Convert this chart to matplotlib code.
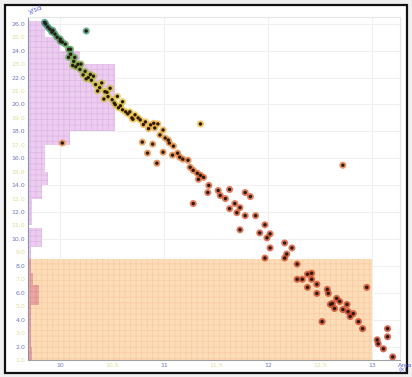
import matplotlib.pyplot as plt
import matplotlib.patches as mpatches
from matplotlib.colors import LinearSegmentedColormap
from matplotlib.ticker import FixedLocator

plt.rcParams['hatch.linewidth'] = 0.5

# scatter points (x, y)
x_vals = [9.85, 9.86, 9.88, 9.90, 9.92, 9.93, 9.95, 9.97, 10.00, 10.00, 10.02, 10.05, 10.08, 10.10,
          10.25,
          10.10, 10.13, 10.14, 10.17, 10.19, 10.24, 10.27, 10.29, 10.34, 10.38, 10.43, 10.46, 10.50,
          10.53, 10.56, 10.60, 10.63, 10.08, 10.15, 10.20, 10.22, 10.30, 10.32, 10.36, 10.40, 10.45,
          10.48, 10.52, 10.55, 10.58, 10.60, 10.65, 10.12, 10.25, 10.42,
          10.67, 10.69, 10.72, 10.77, 10.82, 10.87, 10.91, 10.94, 10.99, 10.70, 10.75, 10.80, 10.85,
          10.90, 10.96, 11.01, 11.04,
          11.35, 10.79, 10.84, 10.93, 10.02,
          10.89, 11.05, 11.09, 10.99, 11.08, 11.13, 11.15, 11.18, 11.23, 11.25, 11.28, 11.32, 11.33,
          11.35, 11.38, 11.43, 11.42, 11.52, 11.54, 11.59, 11.63, 11.28, 11.63, 11.68, 11.70, 11.73,
          11.78, 11.78, 11.83, 11.88, 11.97, 11.92, 12.02, 11.99, 11.73, 12.02, 12.16, 12.23, 12.72,
          12.18, 12.16, 12.28, 12.38, 12.42, 12.28, 12.33, 12.42, 12.38, 12.47, 12.47, 12.57, 12.58,
          12.66, 12.69, 12.62, 12.60, 12.76, 12.64, 12.72, 12.77, 12.82, 12.79, 12.87, 12.91, 12.52,
          12.95, 13.05, 13.06, 13.11, 13.15, 13.15, 13.20, 11.97]
y_vals = [26.10, 25.98, 25.76, 25.60, 25.38, 25.50, 25.23, 25.00, 24.86, 24.70, 24.63, 24.48, 24.10, 23.73,
          25.46,
          24.10, 23.20, 23.50, 22.98, 22.60, 22.46, 22.00, 22.23, 21.48, 21.25, 20.95, 20.58, 20.35,
          19.98, 19.75, 19.60, 19.45, 23.50, 22.80, 23.00, 22.20, 21.80, 22.10, 21.00, 21.60, 20.90,
          21.20, 20.10, 20.60, 19.90, 20.20, 19.30, 22.90, 21.90, 20.40,
          19.45, 19.00, 19.23, 18.85, 18.70, 18.48, 18.25, 18.55, 18.10, 18.90, 19.00, 18.50, 18.20,
          18.60, 17.73, 17.50, 17.35,
          18.55, 17.20, 16.38, 15.63, 17.13,
          17.05, 17.13, 16.90, 16.45, 16.23, 16.38, 16.08, 15.93, 15.85, 15.33, 15.10, 14.88, 14.43,
          14.73, 14.58, 13.98, 13.45, 13.60, 13.23, 13.00, 13.68, 12.63, 12.25, 12.63, 11.95, 12.33,
          11.73, 13.45, 13.15, 11.73, 11.05, 10.45, 10.38, 10.08, 10.68, 9.33, 9.70, 9.33, 15.48,
          8.88, 8.58, 8.13, 7.38, 7.45, 7.00, 7.00, 7.00, 6.40, 6.63, 5.95, 6.25, 5.95,
          5.58, 5.35, 5.20, 5.13, 5.13, 4.83, 4.75, 4.60, 4.45, 4.23, 3.85, 3.33, 3.85,
          6.40, 2.50, 2.20, 1.83, 3.33, 2.73, 1.23, 8.58]

# side histogram along y (bin low edge, bin high edge, bar length)
bin_lo = [25, 24, 23, 22, 21, 20, 19, 18, 17, 16, 15, 14, 13, 12, 11, 9.4, 8.5]
bin_hi = [26.2, 25, 24, 23, 22, 21, 20, 19, 18, 17, 16, 15, 14, 13, 12, 10.8, 9.4]
bin_len = [0.16, 0.31, 0.50, 0.84, 0.84, 0.84, 0.84, 0.84, 0.40, 0.16, 0.16, 0.19, 0.13, 0.04, 0.04, 0.13, 0.03]
low_lo = [1, 2, 3, 5.1, 6.6, 7.5]
low_hi = [2, 3, 5.1, 6.6, 7.5, 8.5]
low_len = [0.04, 0.03, 0.03, 0.11, 0.05, 0.03]

# shaded zone
zone_x = (9.71, 13.0)
zone_y = (1.0, 8.5)

x_lim = (9.69, 13.27)
y_lim = (1.0, 26.5)

fig = plt.figure(figsize=(4.12, 3.77), dpi=100, facecolor='#f0f0f0')
frame = mpatches.Rectangle((0.012, 0.01), 0.976, 0.978, transform=fig.transFigure,
                           facecolor='white', edgecolor='#111111', lw=1.6, zorder=-5)
fig.patches.append(frame)
ax = fig.add_axes([28 / 412, 17 / 377, 372 / 412, 343 / 377])
ax.set_xlim(*x_lim)
ax.set_ylim(*y_lim)
ax.set_facecolor('none')

# shaded zone
ax.add_patch(mpatches.Rectangle((zone_x[0], zone_y[0]), zone_x[1] - zone_x[0], zone_y[1] - zone_y[0],
                                facecolor='#fddcb8', edgecolor='#f6cca4', hatch='+++', lw=0, zorder=1))

# histogram bars
for lo, hi, ln in zip(bin_lo, bin_hi, bin_len):
    ax.add_patch(mpatches.Rectangle((x_lim[0], lo), ln, hi - lo, facecolor='#ecccf0',
                                    edgecolor='#ddb6e3', hatch='+++', lw=0, zorder=1.5))
for lo, hi, ln in zip(low_lo, low_hi, low_len):
    ax.add_patch(mpatches.Rectangle((x_lim[0], lo), ln, hi - lo, facecolor='#eaa6a0',
                                    edgecolor='#dc928c', hatch='+++', lw=0, zorder=1.6))

# points
cmap = LinearSegmentedColormap.from_list('band', [
    (0.0, '#c8341e'), (0.5, '#d9532a'), (0.64, '#e88a35'), (0.72, '#f0c040'),
    (0.82, '#c9c23a'), (0.9, '#5fa44f'), (1.0, '#2a8c7a')])
norm_y = [(v - 1) / 25.2 for v in y_vals]
ax.scatter(x_vals, y_vals, s=26, c=norm_y, cmap=cmap, vmin=0, vmax=1, alpha=0.75,
           edgecolors='none', zorder=3)
ax.scatter(x_vals, y_vals, s=6, color='#2a1a10', edgecolors='none', zorder=4)

# grid and ticks
ax.set_xticks([10, 11, 12, 13])
ax.set_xticklabels(['10', '11', '12', '13'])
ax.xaxis.set_minor_locator(FixedLocator([10.5, 11.5, 12.5]))
ax.set_xticklabels(['10.5', '11.5', '12.5'], minor=True)
ax.set_yticks(range(2, 27, 2))
ax.set_yticklabels([f'{v:.1f}' for v in range(2, 27, 2)])
ax.yaxis.set_minor_locator(FixedLocator(list(range(1, 27, 2))))
ax.set_yticklabels([f'{v:.1f}' for v in range(1, 27, 2)], minor=True)
ax.tick_params(which='both', length=0, labelsize=4.5, pad=2)
ax.tick_params(which='major', labelcolor='#6f78c0')
ax.tick_params(which='minor', labelcolor='#dcdc98')
ax.grid(True, which='major', color='#f0f0f0', lw=0.8, zorder=0)
ax.set_axisbelow(True)

for side in ['top', 'right']:
    ax.spines[side].set_color('#e6e6e6')
ax.spines['left'].set_color('#8a8fb0')
ax.spines['bottom'].set_color('#a0a0a0')

ax.text(0.0, 1.005, 'y/sd', transform=ax.transAxes, color='#5a64d8', fontsize=5,
        rotation=20, ha='left', va='bottom')
ax.text(0.995, -0.008, 'Area\n(x)', transform=ax.transAxes, color='#5a64d8', fontsize=4.5,
        ha='left', va='top', linespacing=0.9)

fig.savefig('out.png', dpi=100, facecolor=fig.get_facecolor())
